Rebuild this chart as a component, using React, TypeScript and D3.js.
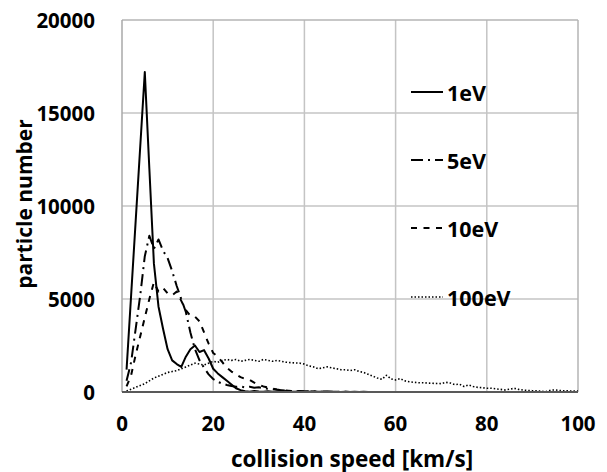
import React from "react";
import * as d3 from "d3";

const speeds = [
  1, 2, 3, 4, 5, 6, 7, 8, 9, 10, 11, 12, 13, 14, 15, 16, 17, 18, 19, 20,
  21, 22, 23, 24, 25, 26, 27, 28, 29, 30, 31, 32, 33, 34, 35, 36, 37, 38, 39, 40,
  41, 42, 43, 44, 45, 46, 47, 48, 49, 50, 51, 52, 53, 54, 55, 56, 57, 58, 59, 60,
  61, 62, 63, 64, 65, 66, 67, 68, 69, 70, 71, 72, 73, 74, 75, 76, 77, 78, 79, 80,
  81, 82, 83, 84, 85, 86, 87, 88, 89, 90, 91, 92, 93, 94, 95, 96, 97, 98, 99, 100,
];

const ev1 = [
  1200, 5200, 9200, 13200, 17200, 12000, 6900, 4600, 3400, 2300,
  1700, 1500, 1350, 1900, 2300, 2500, 2150, 2250, 1800, 1250,
  1000, 800, 600, 400, 200, 100, 40, 20, 60, 30,
  10, 40, 20, 0, 30, 50, 20, 10, 40, 30,
  20, 30, 10, 20, 30, 10, 20, 0, 10, 0,
  10, 0, 10, 0, 0, 0, 0, 0, 0, 0,
  0, 0, 0, 0, 0, 0, 0, 0, 0, 0,
  0, 0, 0, 0, 0, 0, 0, 0, 0, 0,
  0, 0, 0, 0, 0, 0, 0, 0, 0, 0,
  0, 0, 0, 0, 0, 0, 0, 0, 0, 0,
];

const ev5 = [
  600, 1600, 3400, 5200, 7300, 8400, 7700, 8200, 7600, 7200,
  6500, 5700, 5000, 4300, 3200, 2300, 1700, 1300, 950, 700,
  550, 450, 380, 320, 280, 300, 250, 280, 230, 250,
  200, 180, 150, 120, 100, 80, 60, 50, 40, 30,
  40, 20, 30, 10, 20, 10, 20, 0, 10, 0,
  0, 0, 0, 0, 0, 0, 0, 0, 0, 0,
  0, 0, 0, 0, 0, 0, 0, 0, 0, 0,
  0, 0, 0, 0, 0, 0, 0, 0, 0, 0,
  0, 0, 0, 0, 0, 0, 0, 0, 0, 0,
  0, 0, 0, 0, 0, 0, 0, 0, 0, 0,
];

const ev10 = [
  300, 900, 2000, 3000, 4000, 5000, 5900, 5400, 5600, 5300,
  5200, 5400, 4900, 4400, 4100, 4050, 3800, 3200, 2600, 2100,
  1900, 1600, 1300, 1100, 950, 800, 700, 650, 500, 380,
  300, 250, 180, 130, 100, 80, 60, 40, 30, 20,
  30, 10, 20, 10, 0, 10, 0, 0, 0, 0,
  0, 0, 0, 0, 0, 0, 0, 0, 0, 0,
  0, 0, 0, 0, 0, 0, 0, 0, 0, 0,
  0, 0, 0, 0, 0, 0, 0, 0, 0, 0,
  0, 0, 0, 0, 0, 0, 0, 0, 0, 0,
  0, 0, 0, 0, 0, 0, 0, 0, 0, 0,
];

const ev100 = [
  50, 150, 250, 350, 450, 600, 750, 850, 950, 1050,
  1100, 1150, 1250, 1350, 1450, 1550, 1500, 1450, 1550, 1650,
  1600, 1700, 1750, 1700, 1750, 1650, 1700, 1750, 1700, 1650,
  1750, 1700, 1650, 1700, 1650, 1600, 1580, 1560, 1550, 1500,
  1400, 1350, 1250, 1300, 1350, 1300, 1250, 1200, 1200, 1150,
  1200, 1100, 1050, 950, 850, 750, 680, 900, 700, 650,
  720, 600, 550, 520, 500, 500, 480, 470, 460, 450,
  520, 480, 400, 420, 300, 380, 300, 250, 230, 200,
  200, 170, 140, 110, 150, 200, 140, 100, 80, 70,
  60, 40, 20, 100, 110, 80, 60, 60, 50, 50,
];

const seriesNames = ["1eV", "5eV", "10eV", "100eV"];
const seriesValues = [ev1, ev5, ev10, ev100];
const dashes = ["none", "12,5,2,5", "6,6.5", "1.5,2"];
const widths = [2, 2, 2, 1.6];

const xTicks = [0, 20, 40, 60, 80, 100];
const yTicks = [0, 5000, 10000, 15000, 20000];

const W = 607;
const H = 472;
const left = 122;
const right = 578;
const top = 20;
const bottom = 392;
const FONT = "'Open Sans', sans-serif";
const FS = 20.5;

export default function App() {
  const x = d3.scaleLinear().domain([0, 100]).range([left, right]);
  const y = d3.scaleLinear().domain([0, 20000]).range([bottom, top]);
  const line = d3
    .line<number>()
    .x((_, i) => x(speeds[i]))
    .y((d) => y(d));

  const legendY = [92, 160, 228, 297];

  return (
    <svg
      width={W}
      height={H}
      style={{ position: "absolute", left: 0, top: 0, background: "#fff" }}
    >
      <rect x={0} y={0} width={W} height={H} fill="#fff" />
      {xTicks.slice(1, -1).map((t) => (
        <line key={"gx" + t} x1={x(t)} x2={x(t)} y1={top} y2={bottom} stroke="#c4c4c4" strokeWidth={1.5} />
      ))}
      {yTicks.slice(1, -1).map((t) => (
        <line key={"gy" + t} x1={left} x2={right} y1={y(t)} y2={y(t)} stroke="#c4c4c4" strokeWidth={1.5} />
      ))}
      <line x1={left} x2={right} y1={top} y2={top} stroke="#b4b4b4" strokeWidth={1.5} />
      <line x1={right} x2={right} y1={top} y2={bottom} stroke="#b4b4b4" strokeWidth={1.5} />
      <line x1={left} x2={left} y1={top} y2={bottom} stroke="#a8a8a8" strokeWidth={1.5} />

      {seriesValues.map((vals, i) => (
        <path
          key={seriesNames[i]}
          d={line(vals) || ""}
          fill="none"
          stroke="#000"
          strokeWidth={widths[i]}
          strokeDasharray={dashes[i]}
          strokeLinejoin="round"
        />
      ))}

      <line x1={left} x2={right} y1={bottom} y2={bottom} stroke="#595959" strokeWidth={2} />

      {yTicks.map((t) => (
        <text
          key={"yt" + t}
          x={95}
          y={y(t)}
          textAnchor="end"
          dominantBaseline="central"
          fontFamily={FONT}
          fontWeight="bold"
          fontSize={FS}
        >
          {t}
        </text>
      ))}
      {xTicks.map((t) => (
        <text
          key={"xt" + t}
          x={x(t)}
          y={423}
          textAnchor="middle"
          dominantBaseline="central"
          fontFamily={FONT}
          fontWeight="bold"
          fontSize={FS}
        >
          {t}
        </text>
      ))}
      <text
        x={(left + right) / 2 + 2}
        y={458}
        textAnchor="middle"
        dominantBaseline="central"
        fontFamily={FONT}
        fontWeight="bold"
        fontSize={22.5}
      >
        collision speed [km/s]
      </text>
      <text
        transform={`translate(24,204) rotate(-90)`}
        textAnchor="middle"
        dominantBaseline="central"
        fontFamily={FONT}
        fontWeight="bold"
        fontSize={21}
      >
        particle number
      </text>

      {seriesNames.map((n, i) => (
        <g key={"lg" + n}>
          <line
            x1={411}
            x2={443}
            y1={legendY[i]}
            y2={legendY[i]}
            stroke="#000"
            strokeWidth={widths[i]}
            strokeDasharray={dashes[i]}
          />
          <text
            x={447}
            y={legendY[i]}
            dominantBaseline="central"
            fontFamily={FONT}
            fontWeight="bold"
            fontSize={21.5}
          >
            {n}
          </text>
        </g>
      ))}
    </svg>
  );
}
